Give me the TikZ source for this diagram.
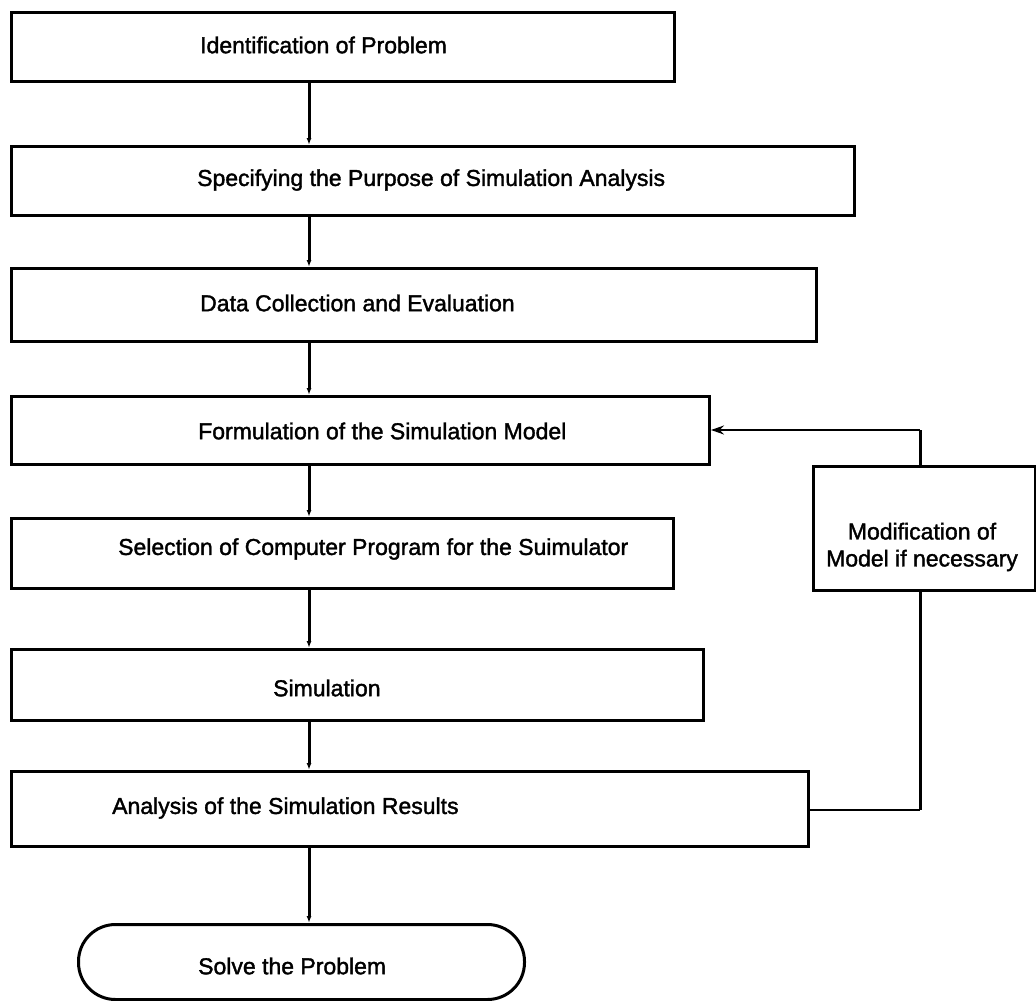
\documentclass[tikz,border=0pt]{standalone}
\usepackage{fontspec}
\setmainfont[FakeBold=1.6]{Liberation Sans}
\usetikzlibrary{arrows.meta}
\tikzset{
  stepbox/.style={draw, line width=3pt, anchor=north west, inner sep=0pt, rectangle},
  endbox/.style={draw, line width=3pt, anchor=north west, inner sep=0pt, rectangle, rounded corners=37pt},
  label/.style={anchor=west, inner sep=0pt, font=\fontsize{23}{27}\selectfont},
  flow/.style={line width=3pt},
  step arrow/.style={flow, -{Latex[length=7pt,width=5pt]}},
  back/.style={line width=1.6pt},
}
\begin{document}
\begin{tikzpicture}[x=1pt, y=-1pt]
\useasboundingbox (0,0) rectangle (1036,1001);

% process boxes
\node[stepbox, minimum width=663pt, minimum height=69pt] (b1) at (10,11) {};
\node[stepbox, minimum width=843pt, minimum height=69pt] (b2) at (10,145) {};
\node[stepbox, minimum width=805pt, minimum height=73pt] (b3) at (10,267) {};
\node[stepbox, minimum width=698pt, minimum height=68pt] (b4) at (10,395) {};
\node[stepbox, minimum width=662pt, minimum height=70pt] (b5) at (10,517) {};
\node[stepbox, minimum width=692pt, minimum height=71pt] (b6) at (10,648) {};
\node[stepbox, minimum width=797pt, minimum height=75pt] (b7) at (10,770) {};
\node[stepbox, minimum width=222pt, minimum height=124pt] (mod) at (812,465) {};
\node[endbox, minimum width=446pt, minimum height=75pt] (end) at (77,923) {};

% box texts
\node[label] (t1) at (200,45) {Identification of Problem};
\node[label] (t2) at (197,180) {Specifying the Purpose of Simulation Analysis};
\node[label] (t3) at (200,303) {Data Collection and Evaluation};
\node[label] (t4) at (198,431) {Formulation of the Simulation Model};
\node[label] (t5) at (118,549) {Selection of Computer Program for the Suimulator};
\node[label] (t6) at (273,688) {Simulation};
\node[label] (t7) at (112,808) {Analysis of the Simulation Results};
\node[label] (tend) at (198,966) {Solve the Problem};
\node[anchor=center, inner sep=0pt, align=center, font=\fontsize{23}{27}\selectfont] (tmod) at (922,547) {Modification of\\Model if necessary};

% main flow
\coordinate (cx) at (309,0);
\draw[step arrow] (b1.south -| cx) -- (b2.north -| cx);
\draw[step arrow] (b2.south -| cx) -- (b3.north -| cx);
\draw[step arrow] (b3.south -| cx) -- (b4.north -| cx);
\draw[step arrow] (b4.south -| cx) -- (b5.north -| cx);
\draw[step arrow] (b5.south -| cx) -- (b6.north -| cx);
\draw[step arrow] (b6.south -| cx) -- (b7.north -| cx);
\draw[step arrow] (b7.south -| cx) -- (end.north -| cx);

% feedback loop
\coordinate (fx) at (920,0);
\coordinate (ay) at (0,430);
\coordinate (by) at (0,810);
\draw[back] (b7.east |- by) -- (fx |- by);
\draw[flow] (fx |- by) -- (mod.south -| fx);
\draw[flow] (mod.north -| fx) -- (fx |- ay);
\draw[back, -{Stealth[length=13pt,width=9pt]}] (fx |- ay) -- (b4.east |- ay);
\end{tikzpicture}
\end{document}
